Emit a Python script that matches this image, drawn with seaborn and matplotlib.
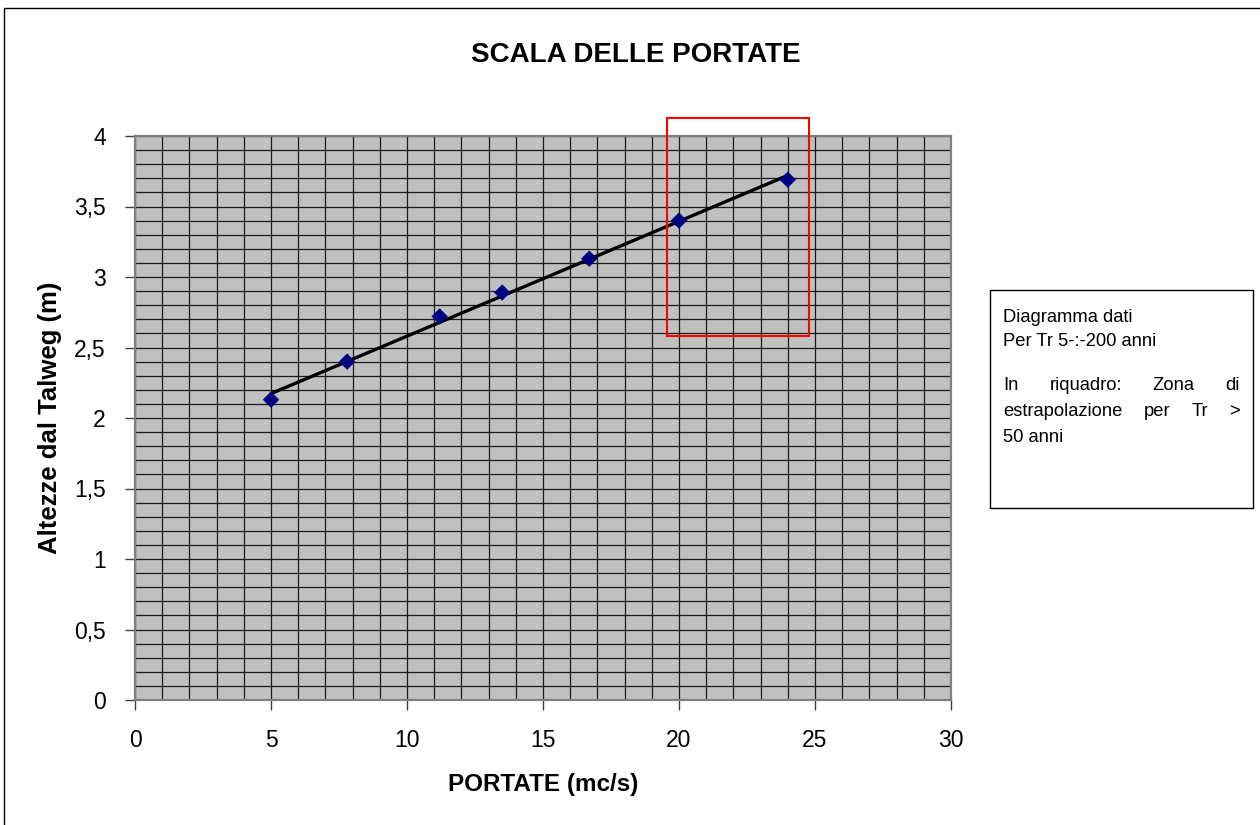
import numpy as np
import pandas as pd
import matplotlib
matplotlib.use("Agg")
import matplotlib.pyplot as plt
import matplotlib.patches as mpatches
import seaborn as sns

# Rating curve measurements
portate = [5.0, 7.8, 11.2, 13.5, 16.7, 20.0, 24.0]          # mc/s
altezze = [2.13, 2.40, 2.72, 2.89, 3.13, 3.40, 3.69]        # m

x_ticks = [0, 5, 10, 15, 20, 25, 30]
y_ticks = [0, 0.5, 1, 1.5, 2, 2.5, 3, 3.5, 4]
y_tick_labels = ["0", "0,5", "1", "1,5", "2", "2,5", "3", "3,5", "4"]

# Extrapolation zone (Tr > 50 years)
zona_x = [19.56, 24.78]
zona_y = [2.58, 4.13]

title = "SCALA DELLE PORTATE"
xlabel = "PORTATE (mc/s)"
ylabel = "Altezze dal Talweg (m)"
note_lines = ["Diagramma dati", "Per Tr 5-:-200 anni",
              "In riquadro: Zona di", "estrapolazione per Tr >", "50 anni"]
note_rows = [315, 339, 384, 410, 436]
justified = [False, False, True, True, False]

sns.set_theme(style="white")
plt.rcParams["font.family"] = ["Liberation Sans", "DejaVu Sans"]
plt.rcParams["text.color"] = "black"
plt.rcParams["axes.labelcolor"] = "black"

note_family = ["Liberation Sans", "DejaVu Sans"]
note_size = 13.2

W, H = 1260, 825
fig = plt.figure(figsize=(W / 100, H / 100), dpi=100)
ax = fig.add_axes([135 / W, 1 - 700 / H, (951 - 135) / W, (700 - 136) / H])
ax.set_facecolor("#C0C0C0")

df = pd.DataFrame({"portata": portate, "altezza": altezze})
sns.regplot(data=df, x="portata", y="altezza", ci=None, ax=ax,
            marker="D", truncate=True,
            scatter_kws=dict(s=70, color="#000080", alpha=1, edgecolors="none", zorder=4),
            line_kws=dict(color="black", lw=2.4, zorder=3))

ax.set_xlim(0, 30)
ax.set_ylim(0, 4)
ax.set_xticks(x_ticks)
ax.set_yticks(y_ticks)
ax.set_yticklabels(y_tick_labels)
ax.set_xticks(np.arange(0, 31, 1), minor=True)
ax.set_yticks(np.arange(0, 4.01, 0.1), minor=True)
ax.grid(which="both", color="#1a1a1a", lw=0.9, zorder=1)
ax.set_axisbelow(True)
ax.tick_params(which="major", direction="out", length=7, width=1,
               color="#404040", labelsize=16.5, labelcolor="black", pad=14,
               bottom=True, left=True)
ax.tick_params(which="minor", length=0)
for sp in ax.spines.values():
    sp.set_color("#808080")
    sp.set_linewidth(1.6)

ax.set_xlabel(xlabel, fontsize=17.5, fontweight="bold", labelpad=15)
ax.set_ylabel(ylabel, fontsize=18.5, fontweight="bold", labelpad=9)

# Red frame around the extrapolation zone
ax.add_patch(mpatches.Rectangle((zona_x[0], zona_y[0]), zona_x[1] - zona_x[0],
                                zona_y[1] - zona_y[0], fill=False,
                                edgecolor="red", lw=1.5, clip_on=False, zorder=5))

fig.text(636 / W, 1 - 55 / H, title, fontsize=20, fontweight="bold",
         ha="center", va="center")

# Note box
fig.patches.append(mpatches.Rectangle((990 / W, 1 - 508 / H), (1253 - 990) / W,
                                      (508 - 290) / H, fill=False, edgecolor="black",
                                      lw=1.0, transform=fig.transFigure, figure=fig))
x0, x1 = 1003, 1240
fig.canvas.draw()
renderer = fig.canvas.get_renderer()
for line, row, just in zip(note_lines, note_rows, justified):
    y = 1 - row / H
    if not just:
        fig.text(x0 / W, y, line, fontsize=note_size, family=note_family,
                 ha="left", va="center_baseline")
        continue
    words = line.split(" ")
    widths = []
    for w in words:
        t = fig.text(0, 0, w, fontsize=note_size, family=note_family)
        widths.append(t.get_window_extent(renderer).width)
        t.remove()
    gap = (x1 - x0 - sum(widths)) / (len(words) - 1)
    xp = x0
    for w, wd in zip(words, widths):
        fig.text(xp / W, y, w, fontsize=note_size, family=note_family,
                 ha="left", va="center_baseline")
        xp += wd + gap

# Outer chart frame
fig.patches.append(mpatches.Rectangle((4 / W, -0.1), 2.0, 1 - 8 / H + 0.1,
                                      fill=False, edgecolor="black", lw=1.0,
                                      transform=fig.transFigure, figure=fig))

fig.savefig("out.png", dpi=100)
